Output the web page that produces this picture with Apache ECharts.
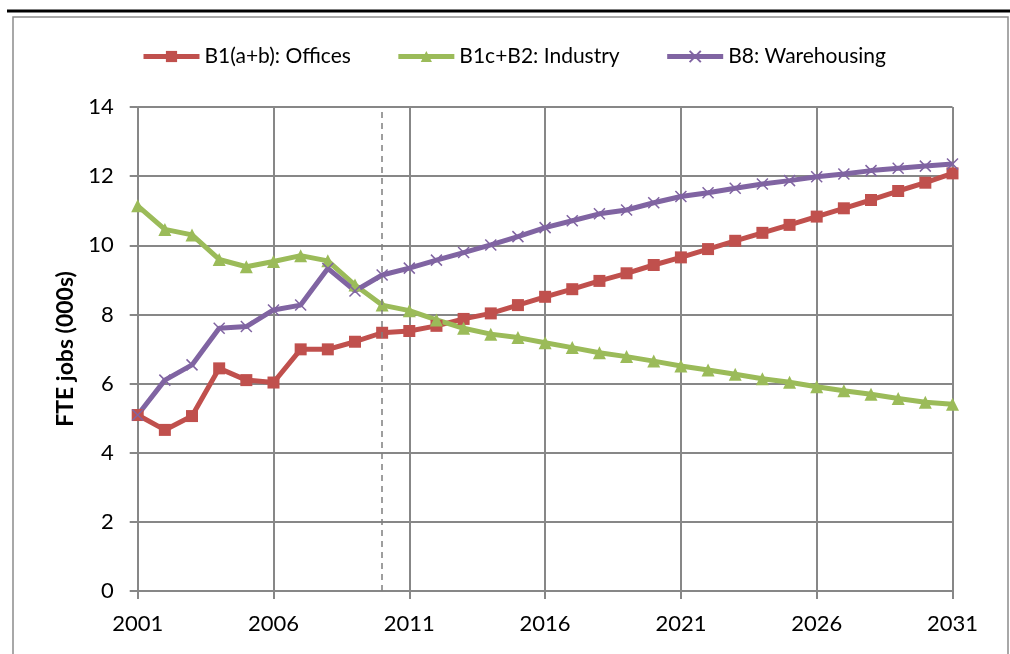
<!DOCTYPE html>
<html>
<head>
<meta charset="utf-8">
<script src="https://cdn.jsdelivr.net/npm/echarts@6/dist/echarts.min.js"></script>
<style>
  html, body { margin: 0; padding: 0; background: #fff; }
  #main { width: 1010px; height: 654px; }
</style>
</head>
<body>
<div id="main"></div>
<script>
let years = [];
for (let y = 2001; y <= 2031; y++) years.push(String(y));

let offices = [5.09, 4.66, 5.06, 6.44, 6.10, 6.03, 6.99, 6.99, 7.21, 7.47,
  7.52, 7.67, 7.87, 8.03, 8.27, 8.51, 8.73, 8.97, 9.19, 9.43,
  9.65, 9.89, 10.13, 10.36, 10.59, 10.83, 11.07, 11.31, 11.57, 11.81, 12.08];
let industry = [11.14, 10.46, 10.30, 9.59, 9.38, 9.53, 9.70, 9.55, 8.85, 8.27,
  8.11, 7.84, 7.60, 7.43, 7.33, 7.18, 7.04, 6.89, 6.78, 6.65,
  6.51, 6.39, 6.27, 6.14, 6.04, 5.91, 5.79, 5.69, 5.57, 5.46, 5.40];
let warehousing = [5.09, 6.10, 6.54, 7.60, 7.65, 8.13, 8.27, 9.33, 8.68, 9.14,
  9.34, 9.57, 9.79, 10.01, 10.25, 10.51, 10.71, 10.91, 11.02, 11.23,
  11.41, 11.52, 11.65, 11.77, 11.87, 11.98, 12.06, 12.16, 12.23, 12.29, 12.35];
let seriesNames = ["B1(a+b): Offices", "B1c+B2: Industry", "B8: Warehousing"];
let splitYear = "2010";

let myChart = echarts.init(document.getElementById("main"));
let font = "Lato, 'Open Sans', sans-serif";
let gridGray = "#878787";

let option = {
  animation: false,
  textStyle: { fontFamily: font },
  graphic: [
    { type: "line", shape: { x1: 7, y1: 11, x2: 1010, y2: 11 },
      style: { stroke: "#000", lineWidth: 3 } },
    { type: "rect", shape: { x: 13, y: 17, width: 995, height: 660 },
      style: { fill: null, stroke: "#8c8c8c", lineWidth: 1.5 } },
  ],
  legend: {
    top: 41,
    left: 136,
    itemWidth: 56,
    itemHeight: 14,
    itemGap: 45,
    lineStyle: { width: 5 },
    textStyle: { fontSize: 21, color: "#000", fontFamily: font },
    data: seriesNames,
  },
  grid: { left: 137.7, right: 57.5, top: 107, bottom: 63 },
  xAxis: {
    type: "category",
    data: years,
    boundaryGap: false,
    axisLine: { lineStyle: { color: gridGray, width: 2 } },
    axisTick: { show: true, interval: 4, length: 8, lineStyle: { color: gridGray, width: 2 } },
    axisLabel: { interval: 4, margin: 22, fontSize: 22, color: "#000" },
    splitLine: { show: true, interval: 4, lineStyle: { color: gridGray, width: 2 } },
  },
  yAxis: {
    type: "value",
    min: 0,
    max: 14,
    interval: 2,
    name: "FTE jobs (000s)",
    nameLocation: "middle",
    nameGap: 60,
    nameTextStyle: { fontSize: 23, fontWeight: "bold", color: "#000" },
    axisLine: { show: true, lineStyle: { color: gridGray, width: 2 } },
    axisTick: { show: true, length: 8, lineStyle: { color: gridGray, width: 2 } },
    axisLabel: { margin: 24, fontSize: 22, color: "#000" },
    splitLine: { lineStyle: { color: gridGray, width: 2 } },
  },
  series: [
    {
      type: "line",
      name: seriesNames[0],
      data: offices,
      color: "#C0504D",
      symbol: "rect",
      symbolSize: 12,
      lineStyle: { width: 5 },
      markLine: {
        silent: true,
        symbol: "none",
        label: { show: false },
        lineStyle: { color: "#7f7f7f", type: [6, 5], width: 1.5 },
        data: [{ xAxis: splitYear }],
      },
    },
    {
      type: "line",
      name: seriesNames[1],
      data: industry,
      color: "#9BBB59",
      symbol: "triangle",
      symbolSize: 13,
      lineStyle: { width: 5 },
    },
    {
      type: "line",
      name: seriesNames[2],
      data: warehousing,
      color: "#8064A2",
      symbol: "path://M0,0L10,10M10,0L0,10",
      symbolSize: 11,
      itemStyle: { borderColor: "#8064A2", borderWidth: 1.5 },
      lineStyle: { width: 5 },
    },
  ],
};
myChart.setOption(option);
</script>
</body>
</html>
